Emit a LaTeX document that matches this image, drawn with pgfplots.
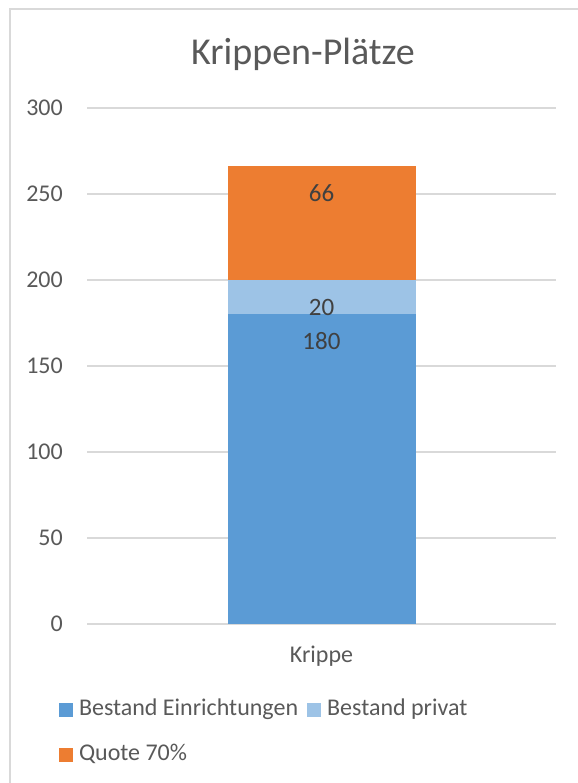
\documentclass[border=0pt]{standalone}
\usepackage{fontspec}
\setmainfont{Carlito}
\usepackage{pgfplots}
\pgfplotsset{compat=1.18}

\definecolor{bestandE}{HTML}{5B9BD5}
\definecolor{bestandP}{HTML}{9DC3E6}
\definecolor{quote}{HTML}{ED7D31}
\definecolor{txtgray}{HTML}{595959}
\definecolor{lblgray}{HTML}{404040}
\definecolor{gridgray}{HTML}{D9D9D9}

\newcommand{\fs}[1]{\fontsize{#1bp}{1.2\dimexpr#1bp\relax}\selectfont}

\begin{document}
\begin{tikzpicture}[x=1bp,y=1bp]
\useasboundingbox (0,0) rectangle (578,783);
% chart frame
\draw[gridgray, line width=1.5bp] (10,0) -- (10,774) -- (578,774);
% title
\node[anchor=base, text=txtgray, font=\fs{38}, inner sep=0pt] at (303,718) {Krippen-Plätze};
\begin{axis}[
  at={(87bp,159bp)}, anchor=south west,
  scale only axis, width=469bp, height=516bp,
  ymin=0, ymax=300, ytick={0,50,...,300},
  xmin=-1, xmax=1, xtick={0}, xticklabels={Krippe},
  enlargelimits=false,
  ymajorgrids, grid style={gridgray, line width=1.5bp},
  axis line style={draw=none}, major tick length=0pt,
  /pgf/number format/assume math mode=true,
  ticklabel style={font=\fs{24}, text=txtgray},
  yticklabel style={anchor=east, inner sep=0pt, xshift=-24bp},
  xticklabel style={anchor=base, inner sep=0pt, yshift=-39bp},
  ybar stacked, bar width=188bp,
  % value labels sit just inside the top end of each segment
  point meta=explicit symbolic,
  nodes near coords={\pgfplotspointmeta},
  every node near coord/.append style={anchor=center,
    yshift={0.86bp*\pgfplotspointmeta-27bp},
    inner sep=0pt, font=\fs{25}, text=lblgray},
  every axis plot post/.append style={legend image code/.code={\fill[##1] (0bp,-6.5bp) rectangle (14bp,7.5bp);}},
  legend columns=2,
  legend cell align=left,
  legend style={at={(-0.0597,-0.1473)}, anchor=north west, draw=none, fill=none,
    inner sep=0pt, outer sep=0pt, font=\fs{24}, text=txtgray,
    nodes={inner sep=0pt, text height=15bp, text depth=5bp},
    row sep=25bp,
    /tikz/every odd column/.append style={column sep=6bp},
    /tikz/every even column/.append style={column sep=9bp}},
]
\addplot[fill=bestandE, draw=none] coordinates {(0,180) [180]};
\addplot[fill=bestandP, draw=none] coordinates {(0,20) [20]};
\addplot[fill=quote, draw=none] coordinates {(0,66) [66]};
\legend{Bestand Einrichtungen, Bestand privat, Quote 70\%}
\end{axis}
\end{tikzpicture}
\end{document}
